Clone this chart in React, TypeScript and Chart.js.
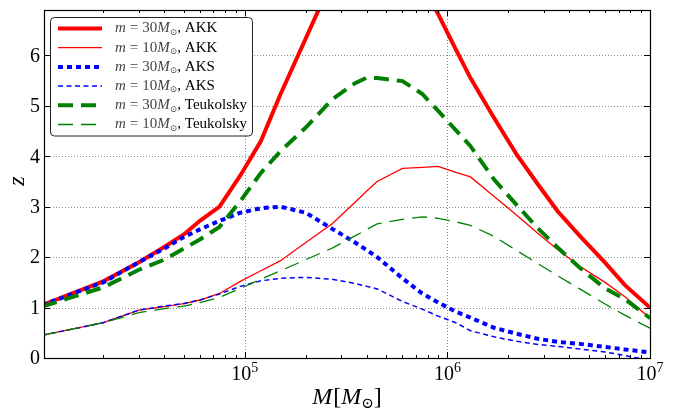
import React, { useEffect, useRef } from "react";
import { Chart, registerables } from "chart.js";
Chart.register(...registerables);

// Black hole mass M [M_sun]
const masses = [1e4, 2e4, 3e4, 4e4, 5e4, 6e4, 7.5e4, 9.5e4, 1.2e5, 1.5e5, 2e5, 2.7e5, 3.5e5, 4e5, 4.5e5, 6e5, 7.5e5, 9e5, 1.1e6, 1.3e6, 1.7e6, 2.2e6, 2.8e6, 3.5e6, 4.5e6, 6e6, 7.5e6, 1e7];

const akk30 = [1.05, 1.52, 1.9, 2.2, 2.45, 2.72, 3.0, 3.62, 4.3, 5.23, 6.34, 7.5, 8.2, 8.4, 8.5, 8.2, 7.45, 6.82, 6.12, 5.55, 4.76, 4.03, 3.44, 2.91, 2.42, 1.89, 1.45, 1.0];
const akk10 = [0.45, 0.7, 0.95, 1.02, 1.08, 1.15, 1.28, 1.52, 1.73, 1.93, 2.29, 2.66, 3.09, 3.31, 3.5, 3.76, 3.78, 3.8, 3.68, 3.59, 3.2, 2.83, 2.47, 2.15, 1.82, 1.5, 1.22, 0.79];
const aks30 = [1.05, 1.5, 1.9, 2.17, 2.4, 2.55, 2.72, 2.88, 2.97, 3.0, 2.88, 2.56, 2.29, 2.14, 2.0, 1.58, 1.28, 1.1, 0.92, 0.8, 0.6, 0.48, 0.38, 0.32, 0.28, 0.22, 0.17, 0.11];
const aks10 = [0.45, 0.7, 0.95, 1.03, 1.08, 1.15, 1.27, 1.42, 1.53, 1.58, 1.6, 1.56, 1.48, 1.42, 1.37, 1.12, 0.97, 0.83, 0.7, 0.54, 0.42, 0.33, 0.27, 0.23, 0.18, 0.12, 0.05, -0.05];
const teuk30 = [1.02, 1.4, 1.75, 1.95, 2.17, 2.35, 2.6, 3.11, 3.67, 4.1, 4.57, 5.13, 5.45, 5.56, 5.55, 5.49, 5.24, 4.9, 4.52, 4.2, 3.54, 3.03, 2.57, 2.19, 1.79, 1.38, 1.17, 0.79];
const teuk10 = [0.45, 0.7, 0.9, 0.98, 1.03, 1.1, 1.2, 1.38, 1.56, 1.73, 1.95, 2.18, 2.42, 2.55, 2.66, 2.75, 2.8, 2.77, 2.7, 2.63, 2.41, 2.13, 1.87, 1.63, 1.37, 1.07, 0.85, 0.59];

const legendMass = ["30", "10", "30", "10", "30", "10"];
const legendModel = ["AKK", "AKK", "AKS", "AKS", "Teukolsky", "Teukolsky"];
const xTickExponents = [5, 6, 7];
const yTickValues = [0, 1, 2, 3, 4, 5, 6];

const SERIF = '"Liberation Serif", "DejaVu Serif", serif';

type Run = { t: string; f: string; dy?: number; c?: string; gap?: number };

function drawRuns(ctx: CanvasRenderingContext2D, runs: Run[], x: number, y: number, align: "left" | "center") {
  let total = 0;
  for (const r of runs) {
    ctx.font = r.f;
    total += ctx.measureText(r.t).width + (r.gap || 0);
  }
  let cx = align === "center" ? x - total / 2 : x;
  for (const r of runs) {
    ctx.font = r.f;
    ctx.fillStyle = r.c || "#000";
    ctx.fillText(r.t, cx, y + (r.dy || 0));
    cx += ctx.measureText(r.t).width + (r.gap || 0);
  }
}

const styles = [
  { color: "#ff0000", w: 4, dash: [] as number[] },
  { color: "#ff0000", w: 1.3, dash: [] as number[] },
  { color: "#0000ff", w: 4, dash: [5, 4] },
  { color: "#0000ff", w: 1.5, dash: [5, 3.5] },
  { color: "#008000", w: 4, dash: [15, 8] },
  { color: "#008000", w: 1.3, dash: [15, 8] },
];

const decor = {
  id: "decor",
  beforeDatasetsDraw(chart: any) {
    const { ctx, chartArea: a, scales } = chart;
    const xs = scales.x, ys = scales.y;
    ctx.save();
    ctx.strokeStyle = "rgba(0,0,0,0.45)";
    ctx.lineWidth = 1;
    ctx.setLineDash([1, 2]);
    for (const e of xTickExponents) {
      const px = Math.round(xs.getPixelForValue(Math.pow(10, e))) + 0.5;
      if (px >= a.right - 1) continue;
      ctx.beginPath();
      ctx.moveTo(px, a.top);
      ctx.lineTo(px, a.bottom);
      ctx.stroke();
    }
    for (const v of yTickValues) {
      if (v === 0) continue;
      const py = Math.round(ys.getPixelForValue(v)) + 0.5;
      ctx.beginPath();
      ctx.moveTo(a.left, py);
      ctx.lineTo(a.right, py);
      ctx.stroke();
    }
    ctx.restore();
  },
  afterDatasetsDraw(chart: any) {
    const { ctx, chartArea: a, scales } = chart;
    const xs = scales.x, ys = scales.y;
    ctx.save();
    ctx.strokeStyle = "#000";
    ctx.lineWidth = 1;
    ctx.setLineDash([]);
    // x ticks (major + minor), bottom and top, inward
    for (let e = 4; e <= 7; e++) {
      for (let k = 1; k <= 9; k++) {
        const v = k * Math.pow(10, e);
        if (v < xs.min || v > xs.max) continue;
        const px = Math.round(xs.getPixelForValue(v)) + 0.5;
        const len = k === 1 ? 6 : 3;
        ctx.beginPath();
        ctx.moveTo(px, a.bottom);
        ctx.lineTo(px, a.bottom - len);
        ctx.moveTo(px, a.top);
        ctx.lineTo(px, a.top + len);
        ctx.stroke();
      }
    }
    for (const v of yTickValues) {
      const py = Math.round(ys.getPixelForValue(v)) + 0.5;
      ctx.beginPath();
      ctx.moveTo(a.left, py);
      ctx.lineTo(a.left + 6, py);
      ctx.moveTo(a.right, py);
      ctx.lineTo(a.right - 6, py);
      ctx.stroke();
    }
    // frame
    ctx.lineWidth = 1.2;
    ctx.strokeRect(Math.round(a.left) + 0.5, Math.round(a.top) + 0.5, Math.round(a.right - a.left), Math.round(a.bottom - a.top));

    // legend
    const lx = 50.5, ly = 17.5, lw = 202, lh = 118.5;
    ctx.beginPath();
    ctx.roundRect(lx, ly, lw, lh, 4);
    ctx.fillStyle = "#fff";
    ctx.fill();
    ctx.strokeStyle = "#222";
    ctx.lineWidth = 1;
    ctx.stroke();
    ctx.textBaseline = "middle";
    ctx.textAlign = "left";
    for (let i = 0; i < styles.length; i++) {
      const s = styles[i];
      const y = 28.5 + i * 19.2;
      ctx.strokeStyle = s.color;
      ctx.lineWidth = s.w;
      ctx.setLineDash(s.dash);
      ctx.lineCap = "butt";
      ctx.beginPath();
      ctx.moveTo(58, y);
      ctx.lineTo(102, y);
      ctx.stroke();
      ctx.setLineDash([]);
      const it = `italic 15px ${SERIF}`;
      const rm = `15px ${SERIF}`;
      const mc = "#444";
      drawRuns(ctx, [
        { t: "m", f: it, c: mc, gap: 4 },
        { t: "=", f: rm, c: mc, gap: 4 },
        { t: legendMass[i], f: rm, c: mc },
        { t: "M", f: it, c: mc },
        { t: "\u2299", f: `9px ${SERIF}`, c: mc, dy: 4 },
        { t: ", " + legendModel[i], f: rm, c: "#000" },
      ], 115, y, "left");
    }
    ctx.restore();
  },
  afterDraw(chart: any) {
    const { ctx, chartArea: a, scales } = chart;
    const xs = scales.x, ys = scales.y;
    ctx.save();
    // y tick labels
    ctx.fillStyle = "#000";
    ctx.font = `20px ${SERIF}`;
    ctx.textAlign = "right";
    ctx.textBaseline = "middle";
    for (const v of yTickValues) {
      ctx.fillText(String(v), a.left - 4, ys.getPixelForValue(v) + 1);
    }
    // x tick labels 10^n
    ctx.textAlign = "left";
    ctx.textBaseline = "alphabetic";
    for (const e of xTickExponents) {
      const px = xs.getPixelForValue(Math.pow(10, e));
      drawRuns(ctx, [
        { t: "10", f: `20px ${SERIF}` },
        { t: String(e), f: `14px ${SERIF}`, dy: -8 },
      ], px, 380, "center");
    }
    // x axis title
    drawRuns(ctx, [
      { t: "M", f: `italic 24px ${SERIF}`, gap: 1 },
      { t: "[", f: `24px ${SERIF}` },
      { t: "M", f: `italic 24px ${SERIF}` },
      { t: "\u2299", f: `15px ${SERIF}`, dy: 4 },
      { t: "]", f: `24px ${SERIF}` },
    ], 347, 404, "center");
    // y axis title
    ctx.translate(18, 181);
    ctx.rotate(-Math.PI / 2);
    ctx.textAlign = "center";
    ctx.textBaseline = "middle";
    ctx.font = `italic 24px ${SERIF}`;
    ctx.fillText("z", 0, 0);
    ctx.restore();
  },
};

export default function App() {
  const ref = useRef<HTMLCanvasElement | null>(null);
  useEffect(() => {
    document.body.style.margin = "0";
    const seriesData = [akk30, akk10, aks30, aks10, teuk30, teuk10];
    const labels = ["m=30, AKK", "m=10, AKK", "m=30, AKS", "m=10, AKS", "m=30, Teukolsky", "m=10, Teukolsky"];
    const chart = new Chart(ref.current as HTMLCanvasElement, {
      type: "line",
      data: {
        datasets: seriesData.map((vals, i) => ({
          label: labels[i],
          data: masses.map((m, j) => ({ x: m, y: vals[j] })),
          borderColor: styles[i].color,
          backgroundColor: styles[i].color,
          borderWidth: styles[i].w,
          borderDash: styles[i].dash,
          borderCapStyle: "butt" as const,
          borderJoinStyle: "miter" as const,
          pointRadius: 0,
          tension: 0,
          fill: false,
          clip: 0,
          order: 10 - i,
        })),
      },
      options: {
        responsive: false,
        animation: false,
        devicePixelRatio: 1,
        layout: { padding: { left: 44, top: 10, right: 30, bottom: 51 } },
        plugins: { legend: { display: false }, tooltip: { enabled: false } },
        scales: {
          x: { type: "logarithmic", min: 1.02e4, max: 1e7, display: false },
          y: { type: "linear", min: 0, max: 6.9, display: false },
        },
      },
      plugins: [decor],
    });
    return () => chart.destroy();
  }, []);
  return <canvas ref={ref} width={680} height={409} style={{ display: "block" }} />;
}
